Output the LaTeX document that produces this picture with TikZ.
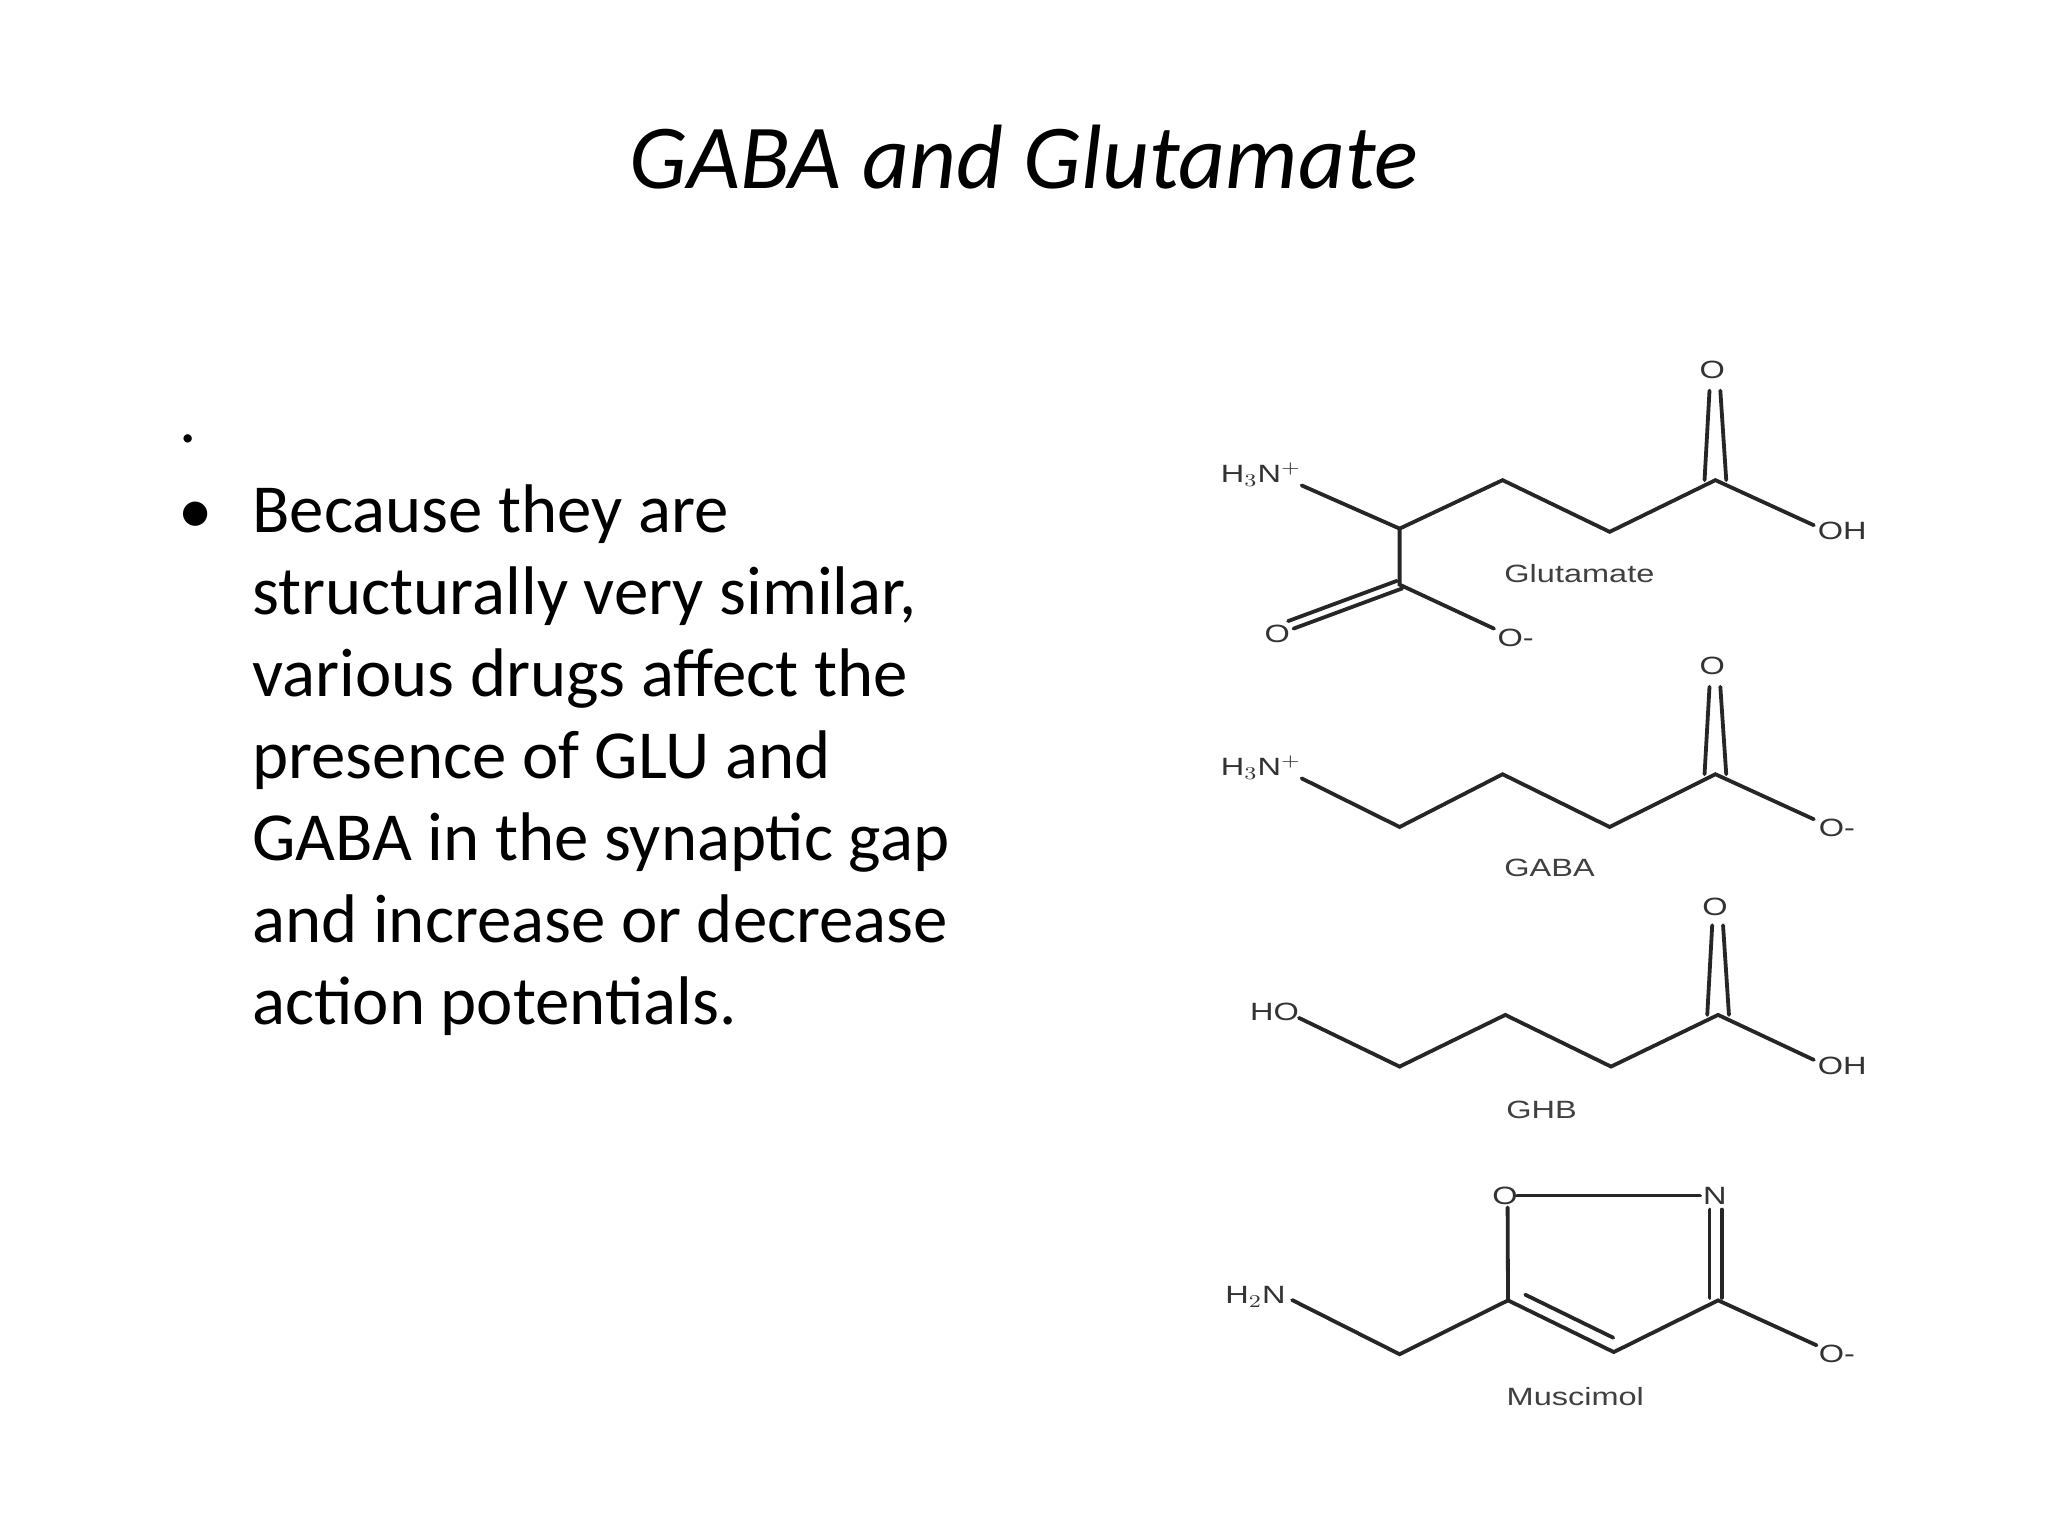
\documentclass[tikz,border=0pt]{standalone}
\usepackage{fontspec}
\setmainfont{Carlito}
\newfontfamily\arialf{Liberation Sans}
\newcommand\widetxt[1]{\scalebox{1.3}[1]{#1}}
\begin{document}
\begin{tikzpicture}[x=0.5pt,y=-0.5pt,
  bond/.style={line width=1.9pt,black!85,line cap=round},
  atom/.style={font=\arialf\fontsize{12.5}{13}\selectfont,text=black!80,inner sep=0pt},
  mlabel/.style={font=\arialf\fontsize{12.5}{13}\selectfont,text=black!75,inner sep=0pt}]
\useasboundingbox (0,0) rectangle (2048,1536);
\node[font=\fontsize{45.7}{50}\selectfont\itshape] (title) at (1024,157) {GABA and Glutamate};
\node[font=\fontsize{34.4}{41}\selectfont,anchor=base west] (dot) at (172,442) {.};
\node[font=\fontsize{34.4}{41}\selectfont,anchor=base] (bul) at (196,533) {•};
\node[font=\fontsize{34.4}{41}\selectfont,anchor=north west,align=left,inner sep=0pt] (txt) at (252,484) {Because they are\\structurally very similar,\\various drugs affect the\\presence of GLU and\\GABA in the synaptic gap\\and increase or decrease\\action potentials.};
\begin{scope}[shift={(1200,340)},xscale=1.355,yscale=1.077,shift={(-1200,-340)}]
% Glutamate
\node[atom] (g1) at (1245,465) {\widetxt{H$_3$N$^+$}};
\node[atom] (g2) at (1578,368) {\widetxt{O}};
\node[atom] (g3) at (1674,517) {\widetxt{OH}};
\node[atom] (g4) at (1257,613) {\widetxt{O}};
\node[atom] (g5) at (1433,617) {\widetxt{O-}};
\node[mlabel] (gl) at (1480,557) {\widetxt{Glutamate}};
\coordinate (ga) at (1347,515);
\coordinate (gb) at (1423,470);
\coordinate (gc) at (1502,518);
\coordinate (gd) at (1580,470);
\coordinate (ge) at (1347,567);
\draw[bond] (1275,475) -- (ga) -- (gb) -- (gc) -- (gd) -- (1653,512);
\draw[bond] (ga) -- (ge) -- (1417,608);
\draw[bond] ([xshift=-4]gd) -- (1576,387);
\draw[bond] ([xshift=4]gd) -- (1584,387);
\draw[bond] ([shift={(-2,-3.5)}]ge) -- (1265,601);
\draw[bond] ([shift={(2,3.5)}]ge) -- (1269,608);
% GABA
\node[atom] (b1) at (1245,737) {\widetxt{H$_3$N$^+$}};
\node[atom] (b2) at (1578,643) {\widetxt{O}};
\node[atom] (b3) at (1670,793) {\widetxt{O-}};
\node[mlabel] (bl) at (1458,830) {\widetxt{GABA}};
\coordinate (ba) at (1347,792);
\coordinate (bb) at (1423,743);
\coordinate (bc) at (1502,792);
\coordinate (bd) at (1580,743);
\draw[bond] (1275,747) -- (ba) -- (bb) -- (bc) -- (bd) -- (1653,785);
\draw[bond] ([xshift=-4]bd) -- (1576,662);
\draw[bond] ([xshift=4]bd) -- (1584,662);
\end{scope}
\begin{scope}[shift={(1200,880)},xscale=1.355,yscale=1.077,shift={(-1200,-880)}]
% GHB
\node[atom] (h1) at (1255,1002) {\widetxt{HO}};
\node[atom] (h2) at (1580,905) {\widetxt{O}};
\node[atom] (h3) at (1674,1053) {\widetxt{OH}};
\node[mlabel] (hl) at (1452,1093) {\widetxt{GHB}};
\coordinate (ha) at (1347,1053);
\coordinate (hb) at (1425,1005);
\coordinate (hc) at (1503,1053);
\coordinate (hd) at (1582,1005);
\draw[bond] (1273,1008) -- (ha) -- (hb) -- (hc) -- (hd) -- (1653,1047);
\draw[bond] ([xshift=-4]hd) -- (1578,922);
\draw[bond] ([xshift=4]hd) -- (1586,922);
% Muscimol
\node[atom] (m1) at (1241,1267) {\widetxt{H$_2$N}};
\node[atom] (mo) at (1425,1173) {\widetxt{O}};
\node[atom] (mn) at (1580,1173) {\widetxt{N}};
\node[atom] (m3) at (1670,1320) {\widetxt{O-}};
\node[mlabel] (ml) at (1477,1360) {\widetxt{Muscimol}};
\coordinate (mc) at (1347,1320);
\coordinate (m5) at (1427,1270);
\coordinate (m4) at (1505,1318);
\coordinate (c3) at (1582,1270);
\draw[bond] (1268,1270) -- (mc) -- (m5) -- (1427,1184);
\draw[bond] (1434,1173) -- (1569,1173);
\draw[bond] (m5) -- (m4) -- (c3) -- (1655,1312);
\draw[bond] (1440,1265) -- (1505,1305);
\draw[bond] (1576,1186) -- (1576,1268);
\draw[bond] (1585,1186) -- (1585,1268);
\end{scope}
\end{tikzpicture}
\end{document}
